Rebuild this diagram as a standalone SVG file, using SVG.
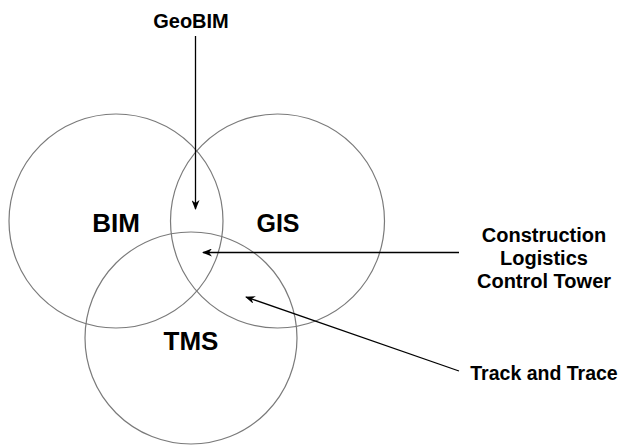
<svg xmlns="http://www.w3.org/2000/svg" width="622" height="445" viewBox="0 0 622 445">
<style>
.c{fill:none;stroke:#7a7a7a;stroke-width:1.2}
.t{font-family:"Liberation Sans",Arial,sans-serif;font-weight:bold;fill:#000;text-anchor:middle}
.a{fill:none;stroke:#000;stroke-width:1.3;marker-end:url(#ah)}
</style>
<defs>
<marker id="ah" viewBox="0 0 10 8" refX="9" refY="4" markerWidth="10" markerHeight="8" markerUnits="userSpaceOnUse" orient="auto">
<path d="M0,0 L10,4 L0,8 L3,4 z" fill="#000"/>
</marker>
</defs>
<rect width="622" height="445" fill="#fff"/>
<g id="bim"><circle class="c" cx="116" cy="221" r="107"/><text class="t" x="116" y="232" font-size="26">BIM</text></g>
<g id="gis"><circle class="c" cx="277.5" cy="221" r="107"/><text class="t" x="278" y="232" font-size="25">GIS</text></g>
<g id="tms"><circle class="c" cx="191" cy="338" r="106"/><text class="t" x="191" y="350" font-size="26">TMS</text></g>
<g id="geobim"><text class="t" x="191" y="28" font-size="20">GeoBIM</text></g>
<g id="clct"><text class="t" font-size="20"><tspan x="544" y="242">Construction</tspan><tspan x="544" y="265">Logistics</tspan><tspan x="544" y="288">Control Tower</tspan></text></g>
<g id="tt"><text class="t" x="544" y="380" font-size="19.5">Track and Trace</text></g>
<g id="connectors">
<line class="a" x1="195.5" y1="36" x2="195.5" y2="209"/>
<line class="a" x1="459" y1="252.5" x2="203" y2="252.5"/>
<line class="a" x1="459" y1="371" x2="246" y2="297"/>
</g>
</svg>
